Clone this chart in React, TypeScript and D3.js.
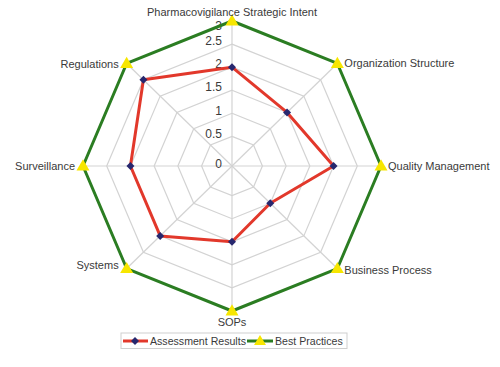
import React from "react";
import * as d3 from "d3";

const categories = [
  "Pharmacovigilance Strategic Intent",
  "Organization Structure",
  "Quality Management",
  "Business Process",
  "SOPs",
  "Systems",
  "Surveillance",
  "Regulations",
];
const assessment = [2, 1.5, 2, 1, 1.5, 2, 2, 2.5];
const bestPractices = [3, 3, 3, 3, 3, 3, 3, 3];
const ticks = [0, 0.5, 1, 1.5, 2, 2.5, 3];
const seriesNames = ["Assessment Results", "Best Practices"];

const W = 500;
const H = 367;
const cx = 232;
const cy = 166;
const Rx = 149;
const Ry = 145;
const FONT = "'Liberation Sans', Arial, sans-serif";

const rScale = d3.scaleLinear().domain([0, 3]).range([0.045, 1]);
const angle = d3
  .scaleLinear()
  .domain([0, categories.length])
  .range([0, 2 * Math.PI]);

function pt(i: number, v: number): [number, number] {
  const f = rScale(v);
  const a = angle(i);
  return [cx + Rx * f * Math.sin(a), cy - Ry * f * Math.cos(a)];
}

const lineGen = d3
  .line<[number, number]>()
  .x((d) => d[0])
  .y((d) => d[1])
  .curve(d3.curveLinearClosed);

function tri(x: number, y: number, s: number) {
  const h = s * 0.85;
  return `M${x},${y - h * 0.6} L${x + s / 2},${y + h * 0.4} L${x - s / 2},${y + h * 0.4} Z`;
}
function diamond(x: number, y: number, s: number) {
  return `M${x},${y - s} L${x + s},${y} L${x},${y + s} L${x - s},${y} Z`;
}

export default function App() {
  const n = categories.length;
  const gridVals = ticks.filter((t) => t > 0);
  const red = "#e2382b";
  const green = "#2b7d22";
  const navy = "#27276e";
  const yellow = "#f7e600";
  const textCol = "#3a3a3a";

  const labelPos = categories.map((c, i) => {
    const [x, y] = pt(i, 3);
    const s = Math.sin(angle(i));
    const co = Math.cos(angle(i));
    let anchor: "start" | "middle" | "end" = "middle";
    let dx = 0;
    let dy = 0;
    if (Math.abs(s) < 1e-6) {
      anchor = "middle";
      dy = co > 0 ? -9 : 11;
    } else if (s > 0) {
      anchor = "start";
      dx = 7;
      dy = co < -0.1 ? 2 : 0;
    } else {
      anchor = "end";
      dx = -8;
      dy = co < -0.1 ? -3 : co > 0.1 ? 1 : 0;
    }
    return { c, x: x + dx, y: y + dy, anchor };
  });

  return (
    <svg width={W} height={H} style={{ position: "absolute", left: 0, top: 0, background: "#fff" }}>
      <rect x={0} y={0} width={W} height={H} fill="#fff" />
      {/* grid rings */}
      {gridVals.map((v) => (
        <path
          key={"g" + v}
          d={lineGen(d3.range(n).map((i) => pt(i, v))) || ""}
          fill="none"
          stroke="#d3d3d3"
          strokeWidth={1.2}
        />
      ))}
      {/* spokes */}
      {d3.range(n).map((i) => {
        const [x, y] = pt(i, 3);
        return <line key={"s" + i} x1={cx} y1={cy} x2={x} y2={y} stroke="#d3d3d3" strokeWidth={1.2} />;
      })}
      {/* tick labels */}
      {ticks.map((t) => {
        const y = t === 0 ? cy - 2 : Math.max(25.5, pt(0, t)[1] - 3);
        return (
          <text
            key={"t" + t}
            x={222}
            y={y}
            dy="0.35em"
            textAnchor="end"
            fontFamily={FONT}
            fontSize={12}
            fill={textCol}
          >
            {String(t)}
          </text>
        );
      })}
      {/* best practices */}
      <path
        d={lineGen(bestPractices.map((v, i) => pt(i, v))) || ""}
        fill="none"
        stroke={green}
        strokeWidth={3}
        strokeLinejoin="round"
      />
      {bestPractices.map((v, i) => {
        const [x, y] = pt(i, v);
        return <path key={"b" + i} d={tri(x, y, 13)} fill={yellow} />;
      })}
      {/* assessment */}
      <path
        d={lineGen(assessment.map((v, i) => pt(i, v))) || ""}
        fill="none"
        stroke={red}
        strokeWidth={3}
        strokeLinejoin="round"
      />
      {assessment.map((v, i) => {
        const [x, y] = pt(i, v);
        return <path key={"a" + i} d={diamond(x, y, 4)} fill={navy} />;
      })}
      {/* category labels */}
      {labelPos.map((l) => (
        <text
          key={l.c}
          x={l.x}
          y={l.y}
          dy="0.35em"
          textAnchor={l.anchor}
          fontFamily={FONT}
          fontSize={11}
          fill={textCol}
        >
          {l.c}
        </text>
      ))}
      {/* legend */}
      <g>
        <rect x={121} y={333} width={226} height={15.5} fill="#fff" stroke="#cfcfcf" strokeWidth={1} />
        <line x1={123} y1={341} x2={148} y2={341} stroke={red} strokeWidth={3} />
        <path d={diamond(135, 341, 4)} fill={navy} />
        <text x={150} y={341} dy="0.35em" fontFamily={FONT} fontSize={10.6} fill={textCol}>
          {seriesNames[0]}
        </text>
        <line x1={247} y1={341} x2={273} y2={341} stroke={green} strokeWidth={3} />
        <path d={tri(260, 341, 12)} fill={yellow} />
        <text x={275} y={341} dy="0.35em" fontFamily={FONT} fontSize={10.6} fill={textCol}>
          {seriesNames[1]}
        </text>
      </g>
    </svg>
  );
}
